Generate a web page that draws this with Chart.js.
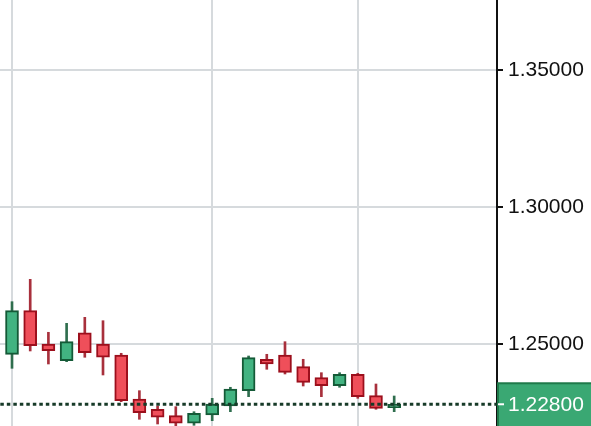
<!DOCTYPE html>
<html>
<head>
<meta charset="utf-8">
<script src="https://cdn.jsdelivr.net/npm/chart.js@4/dist/chart.umd.min.js"></script>
<style>
  html, body { margin: 0; padding: 0; background: #fff; }
  #wrap { width: 591px; height: 426px; position: relative; }
</style>
</head>
<body>
<div id="wrap"><canvas id="chart"></canvas></div>
<script>
// daily candles
const opens  = [1.24624, 1.26215, 1.25000, 1.24391, 1.25412, 1.25000, 1.24599, 1.22993, 1.22617, 1.22383, 1.22106,
                1.22409, 1.22737, 1.23296, 1.24442, 1.24599, 1.24172, 1.23770, 1.23478, 1.23894, 1.23113, 1.22675];
const highs  = [1.26544, 1.27361, 1.25427, 1.25755, 1.25974, 1.25850, 1.24661, 1.23296, 1.22737, 1.22712, 1.22529,
                1.23018, 1.23420, 1.24562, 1.24624, 1.25084, 1.24442, 1.23953, 1.23953, 1.23931, 1.23540, 1.23102];
const lows   = [1.24113, 1.24745, 1.24270, 1.24354, 1.24515, 1.23869, 1.22894, 1.22252, 1.22080, 1.21980, 1.22033,
                1.22201, 1.22529, 1.23077, 1.24077, 1.23905, 1.23467, 1.23077, 1.23420, 1.23018, 1.22617, 1.22529];
const closes = [1.26215, 1.24938, 1.24755, 1.25084, 1.24682, 1.24515, 1.22931, 1.22493, 1.22325, 1.22106, 1.22471,
                1.22810, 1.23358, 1.24500, 1.24270, 1.23967, 1.23602, 1.23478, 1.23894, 1.23077, 1.22653, 1.22800];
const yTicks = [1.25, 1.30, 1.35];
const xGridAt = [0, 11, 19];
const lastPrice = 1.228;

const UP = { fill: '#42b381', border: '#145a37', wick: '#2f6e4e' };
const DOWN = { fill: '#ef4f5a', border: '#9c0f1c', wick: '#a8303c' };
const FONT = { family: "'Liberation Sans', Arial, sans-serif", size: 21 };

const isUp = opens.map((o, i) => closes[i] >= o);
const pick = key => isUp.map(u => (u ? UP : DOWN)[key]);

// price tag on the right axis
const priceTag = {
  id: 'priceTag',
  afterDraw(chart) {
    const { ctx, scales } = chart;
    const y = scales.y.getPixelForValue(lastPrice);
    const left = scales.y.left;
    const top = y - 21;
    ctx.save();
    ctx.fillStyle = '#3aa873';
    ctx.strokeStyle = '#1f7a4a';
    ctx.lineWidth = 2;
    ctx.fillRect(left, top, chart.width - left, chart.height - top);
    ctx.strokeRect(left + 1, top, chart.width - left, chart.height - top + 2);
    ctx.strokeStyle = '#ffffff';
    ctx.beginPath();
    ctx.moveTo(left + 1, y);
    ctx.lineTo(left + 7, y);
    ctx.stroke();
    ctx.fillStyle = '#ffffff';
    ctx.font = `${FONT.size}px ${FONT.family}`;
    ctx.textBaseline = 'middle';
    ctx.fillText(lastPrice.toFixed(5), left + 11, y + 1);
    ctx.restore();
  },
};

new Chart(document.getElementById('chart'), {
  type: 'bar',
  data: {
    datasets: [
      {
        type: 'line',
        data: [{ x: -1, y: lastPrice }, { x: 30, y: lastPrice }],
        borderColor: '#173a28',
        borderWidth: 3,
        borderDash: [3.5, 3],
        pointRadius: 0,
        order: 0,
      },
      {
        data: opens.map((o, i) => ({ x: i, y: [o, closes[i]] })),
        backgroundColor: pick('fill'),
        borderColor: pick('border'),
        borderWidth: 2,
        borderSkipped: false,
        barThickness: 13,
        grouped: false,
        order: 1,
      },
      {
        data: lows.map((l, i) => ({ x: i, y: [l, highs[i]] })),
        backgroundColor: pick('wick'),
        borderWidth: 0,
        barThickness: 2,
        grouped: false,
        order: 2,
      },
    ],
  },
  options: {
    responsive: true,
    maintainAspectRatio: false,
    animation: false,
    layout: { padding: 0 },
    plugins: { legend: { display: false }, tooltip: { enabled: false } },
    scales: {
      x: {
        type: 'linear',
        min: -0.66,
        max: 26.65,
        offset: false,
        grid: { color: '#d6dadd', lineWidth: 2, drawTicks: false, offset: false },
        border: { display: false },
        ticks: { display: false },
        afterBuildTicks: s => { s.ticks = xGridAt.map(v => ({ value: v })); },
        afterFit: s => { s.height = 0; s.paddingLeft = 0; s.paddingRight = 0; },
      },
      y: {
        position: 'right',
        min: 1.22007,
        max: 1.37555,
        grid: { color: '#d6dadd', lineWidth: 2, tickColor: '#111', tickLength: 6 },
        border: { display: true, color: '#111', width: 2 },
        ticks: {
          color: '#111',
          font: FONT,
          padding: 5,
          includeBounds: false,
          callback: v => Number(v).toFixed(5),
        },
        afterBuildTicks: s => { s.ticks = yTicks.map(v => ({ value: v })); },
        afterFit: s => { s.width = 94; s.paddingTop = 0; s.paddingBottom = 0; },
      },
    },
  },
  plugins: [priceTag],
});
</script>
</body>
</html>
